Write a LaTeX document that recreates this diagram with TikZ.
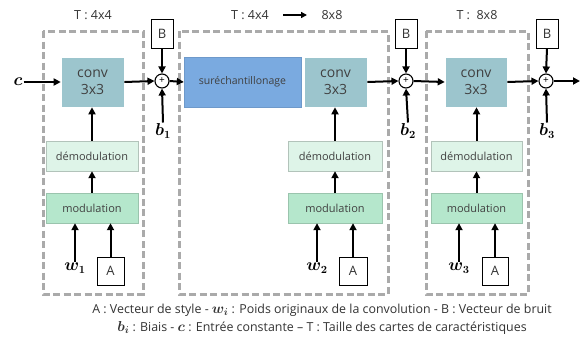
\documentclass[tikz,border=0pt]{standalone}
\usepackage{amsmath}
\usepackage{fontspec}
\setmainfont{Open Sans}
\usetikzlibrary{arrows.meta}
\definecolor{convc}{RGB}{156,197,205}
\definecolor{upc}{RGB}{122,170,224}
\definecolor{demc}{RGB}{222,244,232}
\definecolor{modc}{RGB}{181,231,204}
\definecolor{dashc}{RGB}{170,170,170}
\newcommand{\capm}[1]{{\fontsize{14.5}{18}\selectfont$\boldsymbol{#1}$}}
\tikzset{
  arr/.style={line width=2pt,-{Triangle[length=7pt,width=7pt]}},
  thinarr/.style={line width=1.6pt,-{Triangle[length=6pt,width=6pt]}},
  stage/.style={draw=dashc,line width=3pt,dash pattern=on 7pt off 3.5pt},
  convbox/.style={fill=convc,draw=white,line width=0.6pt,minimum width=63pt,minimum height=50pt,inner sep=0pt,align=center,font=\fontsize{14}{16.5}\selectfont,text=black!75},
  upbox/.style={fill=upc,draw=upc!90!black,line width=0.4pt,minimum width=117pt,minimum height=50pt,inner sep=0pt,font=\fontsize{10.5}{12}\selectfont,text=black!75},
  dembox/.style={fill=demc,draw=demc!80!black,line width=0.4pt,minimum height=30pt,inner sep=0pt,font=\fontsize{11}{13}\selectfont,text=black!75},
  modbox/.style={fill=modc,draw=modc!85!black,line width=0.4pt,minimum height=30pt,inner sep=0pt,font=\fontsize{11}{13}\selectfont,text=black!75},
  smallbox/.style={draw,fill=white,line width=0.8pt,inner sep=0pt,font=\fontsize{13}{15}\selectfont,text=black!80},
  plusc/.style={draw,circle,line width=1.1pt,minimum size=14pt,inner sep=0pt,font=\fontsize{10}{10}\selectfont},
  lab/.style={font=\fontsize{12.5}{14}\selectfont,text=black!80},
  mlab/.style={font=\fontsize{16}{18}\selectfont,inner sep=1pt},
}
\begin{document}
\begin{tikzpicture}[x=1pt,y=-1pt]
\useasboundingbox (0,0) rectangle (580,341);
% stages
\draw[stage] (43,31) rectangle (143,294);
\draw[stage] (179,31) rectangle (388,294);
\draw[stage] (426,31) rectangle (528,294);
% titles
\node[lab] (t1) at (93,15) {T : 4x4};
\node[lab] (t2a) at (250,15) {T : 4x4};
\node[lab] (t2b) at (332,15) {8x8};
\node[lab] (t3) at (477,15) {T :\ \ 8x8};
\coordinate (ta) at (283,15);
\coordinate (tb) at (307,15);
\draw[thinarr] (ta) -- (tb);
% main blocks
\node[convbox] (conv1) at (92.5,82) {conv\\3x3};
\node[upbox] (up) at (242.5,82) {suréchantillonage};
\node[convbox] (conv2) at (335.5,82) {conv\\3x3};
\node[convbox,minimum width=62pt] (conv3) at (476,82) {conv\\3x3};
\node[dembox,minimum width=92pt] (dem1) at (92,156) {démodulation};
\node[modbox,minimum width=92pt] (mod1) at (92,208) {modulation};
\node[dembox,minimum width=94pt] (dem2) at (335,156) {démodulation};
\node[modbox,minimum width=94pt] (mod2) at (335,208) {modulation};
\node[dembox,minimum width=91pt] (dem3) at (476.5,156) {démodulation};
\node[modbox,minimum width=91pt] (mod3) at (476.5,208) {modulation};
\node[smallbox,minimum width=27pt,minimum height=28pt] (A1) at (110.5,271) {A};
\node[smallbox,minimum width=28pt,minimum height=28pt] (A2) at (353,271) {A};
\node[smallbox,minimum width=26pt,minimum height=28pt] (A3) at (495,271) {A};
\node[smallbox,minimum width=22pt,minimum height=29pt] (B1) at (162,33.5) {B};
\node[smallbox,minimum width=22pt,minimum height=29pt] (B2) at (406,33.5) {B};
\node[smallbox,minimum width=22pt,minimum height=29pt] (B3) at (547,33.5) {B};
\node[plusc] (p1) at (162,81) {+};
\node[plusc] (p2) at (406,81) {+};
\node[plusc] (p3) at (546,81) {+};
% labels
\node[mlab] (c) at (18,82) {$\boldsymbol{c}$};
\node[mlab] (b1) at (163,131) {$\boldsymbol{b_1}$};
\node[mlab] (b2) at (408,131) {$\boldsymbol{b_2}$};
\node[mlab] (b3) at (547,131) {$\boldsymbol{b_3}$};
\node[mlab] (w1) at (75,268) {$\boldsymbol{w_1}$};
\node[mlab] (w2) at (317,268) {$\boldsymbol{w_2}$};
\node[mlab] (w3) at (459,268) {$\boldsymbol{w_3}$};
\coordinate (out) at (580,81);
% connectors
\draw[arr] (c.east) -- (conv1.west);
\draw[arr] (conv1.east) -- (p1.west);
\draw[arr] (B1.south) -- (p1.north);
\draw[arr] (b1.north) -- (p1.south);
\draw[arr] (p1.east) -- (up.west);
\draw[arr] (conv2.east) -- (p2.west);
\draw[arr] (B2.south) -- (p2.north);
\draw[arr] (b2.north) -- (p2.south);
\draw[arr] (p2.east) -- (conv3.west);
\draw[arr] (conv3.east) -- (p3.west);
\draw[arr] (B3.south) -- (p3.north);
\draw[arr] (b3.north) -- (p3.south);
\draw[arr] (p3.east) -- (out);
\draw[arr] (dem1.north) -- (dem1.north |- conv1.south);
\draw[arr] (dem2.north) -- (dem2.north |- conv2.south);
\draw[arr] (dem3.north) -- (dem3.north |- conv3.south);
\draw[arr] (mod1.north) -- (dem1.south);
\draw[arr] (mod2.north) -- (dem2.south);
\draw[arr] (mod3.north) -- (dem3.south);
\draw[arr] (w1.north) -- (w1.north |- mod1.south);
\draw[arr] (w2.north) -- (w2.north |- mod2.south);
\draw[arr] (w3.north) -- (w3.north |- mod3.south);
\draw[arr] (A1.north) -- (A1.north |- mod1.south);
\draw[arr] (A2.north) -- (A2.north |- mod2.south);
\draw[arr] (A3.north) -- (A3.north |- mod3.south);
% caption
\node[lab,align=center,font=\fontsize{12.4}{18}\selectfont] (cap) at (322,319) {A : Vecteur de style - \capm{w_i} : Poids originaux de la convolution - B : Vecteur de bruit\\\capm{b_i} : Biais - \capm{c} : Entrée constante -- T : Taille des cartes de caractéristiques};
\end{tikzpicture}
\end{document}
